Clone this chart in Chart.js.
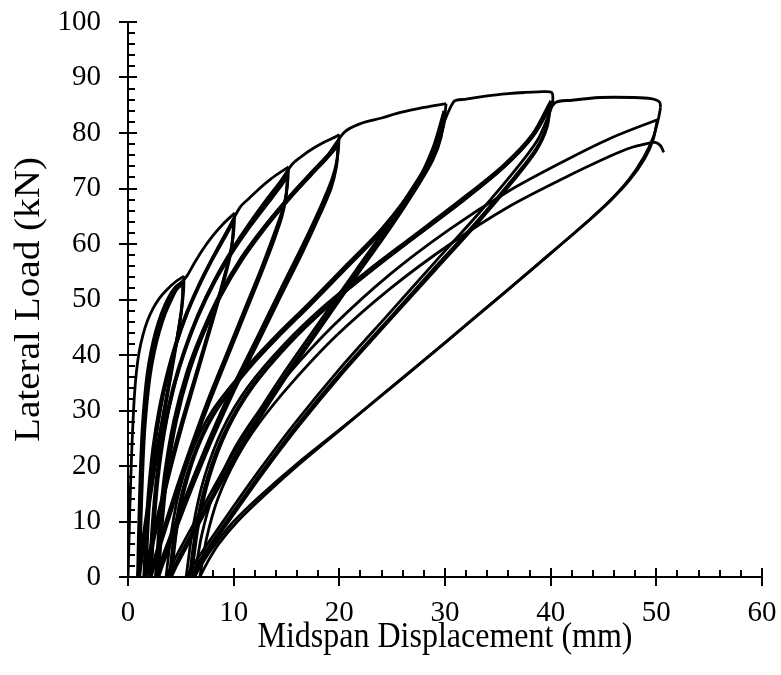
<!DOCTYPE html>
<html>
<head>
<meta charset="utf-8">
<script src="https://cdn.jsdelivr.net/npm/chart.js@4.4.1/dist/chart.umd.min.js"></script>
<style>
  html, body { margin: 0; padding: 0; background: #fff; }
  canvas { display: block; }
</style>
</head>
<body>
<canvas id="chart" width="781" height="675"></canvas>
<script>
// Axis ranges, tick spacing and titles
const xRange = [0, 60];
const yRange = [0, 100];
const xMajorStep = 10, xMinorStep = 2;
const yMajorStep = 10, yMinorStep = 2;
const xTitle = 'Midspan Displacement (mm)';
const yTitle = 'Lateral Load (kN)';

// Load–displacement path, [displacement mm, load kN], split by target amplitude.
// Each group: first loading, then unload / reload cycles.
const amp5mm = [
  [0,0],[0.1,7],[0.2,14],[0.32,21],[0.45,27],[0.6,32.5],[0.8,37],[1.05,40.5],[1.4,43.5],[1.85,46.2],[2.4,48.5],[3.0,50.3],[3.7,51.8],[4.5,53.2],[5.3,54.2],
  [5.26,51.5],[5.12,48.8],[4.86,45.5],[4.42,40.7],[3.89,35.2],[3.32,29.3],[2.75,23.3],[2.22,17.3],[1.78,11.9],[1.43,7.3],[1.16,3.8],[0.99,1.4],[0.9,0],
  [0.98,7],[1.08,14],[1.2,21],[1.35,27],[1.55,32],[1.8,36.5],[2.15,40.5],[2.6,44.2],[3.15,47.5],[3.8,50.3],[4.5,52.3],[5.2,53.3],
  [5.16,50.6],[5.03,48.0],[4.78,44.8],[4.36,40.0],[3.86,34.6],[3.31,28.8],[2.76,22.9],[2.26,17.1],[1.84,11.7],[1.5,7.2],[1.25,3.7],[1.08,1.3],[1.0,0],
  [1.08,7],[1.19,14],[1.32,21],[1.48,27],[1.7,32],[1.97,36.5],[2.33,40.5],[2.8,44.2],[3.35,47.4],[4.0,50.1],[4.65,51.9],[5.2,52.8],
  [5.16,50.2],[5.04,47.5],[4.79,44.4],[4.38,39.6],[3.89,34.3],[3.36,28.5],[2.82,22.7],[2.33,16.9],[1.92,11.6],[1.59,7.1],[1.35,3.7],[1.18,1.3],[1.1,0]
];
const amp10mm = [
  [1.1,0],[1.19,7],[1.3,14],[1.44,21],[1.61,27],[1.84,32],[2.12,36.5],[2.5,40.5],[2.98,44.2],[3.55,47.5],[4.2,50.3],[4.85,52.6],[5.6,54.3],[6.2,56.3],[7,58.8],[8,61.4],[9,63.6],[10.1,65.6],
  [10.01,62.3],[9.76,59.0],[9.24,55.1],[8.38,49.2],[7.35,42.6],[6.23,35.4],[5.11,28.2],[4.08,21.0],[3.22,14.4],[2.53,8.9],[2.02,4.6],[1.67,1.6],[1.5,0],
  [1.67,7.8],[1.93,15.5],[2.35,23.3],[2.95,30.4],[3.63,36.2],[4.48,42.0],[5.5,47.5],[6.6,52.3],[7.71,56.5],[8.73,60.1],[9.49,62.7],[10.0,64.6],
  [9.92,61.4],[9.66,58.1],[9.16,54.3],[8.32,48.5],[7.31,42.0],[6.22,34.9],[5.13,27.8],[4.12,20.7],[3.28,14.2],[2.61,8.7],[2.1,4.5],[1.77,1.6],[1.6,0],
  [1.77,7.7],[2.02,15.4],[2.44,23.1],[3.03,30.2],[3.7,36.0],[4.54,41.7],[5.55,47.2],[6.64,52.0],[7.73,56.2],[8.74,59.7],[9.5,62.3],[10.0,64.2],
  [9.92,61.0],[9.67,57.8],[9.17,53.9],[8.34,48.2],[7.34,41.7],[6.27,34.7],[5.19,27.6],[4.19,20.5],[3.36,14.1],[2.7,8.7],[2.2,4.5],[1.87,1.6],[1.7,0]
];
const amp15mm = [
  [1.7,0],[1.87,7.8],[2.12,15.6],[2.54,23.4],[3.13,30.6],[3.8,36.4],[4.64,42.3],[5.65,47.8],[6.74,52.7],[7.83,56.9],[8.84,60.5],[9.6,63.1],[10.6,66.6],[11.5,68.3],[12.5,70.1],[13.5,71.7],[14.4,72.9],[15.2,73.9],
  [15.07,70.2],[14.67,66.5],[13.88,62.1],[12.56,55.4],[10.98,48.0],[9.26,39.9],[7.54,31.8],[5.96,23.6],[4.64,16.3],[3.58,10.0],[2.79,5.2],[2.26,1.8],[2.0,0],
  [2.26,8.7],[2.66,17.4],[3.31,26.1],[4.23,34.1],[5.28,40.7],[6.59,47.2],[8.16,53.4],[9.86,58.8],[11.56,63.5],[13.14,67.5],[14.31,70.4],[15.1,72.6],
  [14.97,69.0],[14.58,65.3],[13.8,61.0],[12.5,54.5],[10.94,47.2],[9.25,39.2],[7.56,31.2],[6.0,23.2],[4.7,16.0],[3.66,9.8],[2.88,5.1],[2.36,1.8],[2.1,0],
  [2.36,8.7],[2.75,17.3],[3.4,26.0],[4.31,33.9],[5.35,40.4],[6.65,46.9],[8.21,53.1],[9.9,58.5],[11.59,63.2],[13.15,67.1],[14.32,70.0],[15.1,72.2],
  [14.97,68.6],[14.58,65.0],[13.81,60.6],[12.52,54.2],[10.97,46.9],[9.3,39.0],[7.62,31.0],[6.07,23.1],[4.78,15.9],[3.75,9.7],[2.97,5.1],[2.46,1.8],[2.2,0]
];
const amp20mm = [
  [2.2,0],[2.46,8.8],[2.85,17.6],[3.5,26.5],[4.41,34.5],[5.45,41.2],[6.75,47.8],[8.31,54.0],[10.0,59.5],[11.69,64.3],[13.25,68.4],[14.42,71.3],[15.6,74.5],[16.5,75.9],[17.5,77.2],[18.5,78.3],[19.3,79.0],[20.0,79.7],
  [19.83,75.7],[19.3,71.7],[18.26,66.9],[16.52,59.8],[14.43,51.8],[12.17,43.0],[9.91,34.3],[7.82,25.5],[6.08,17.5],[4.69,10.8],[3.64,5.6],[2.95,2.0],[2.6,0],
  [2.95,9.4],[3.47,18.8],[4.33,28.2],[5.54,36.8],[6.93,43.8],[8.66,50.9],[10.73,57.6],[12.98,63.4],[15.23,68.5],[17.31,72.8],[18.86,75.9],[19.9,78.3],
  [19.73,74.4],[19.22,70.5],[18.19,65.8],[16.48,58.7],[14.43,50.9],[12.21,42.3],[9.98,33.7],[7.93,25.1],[6.22,17.2],[4.85,10.6],[3.83,5.5],[3.14,2.0],[2.8,0],
  [3.14,9.3],[3.66,18.7],[4.51,28.0],[5.71,36.6],[7.08,43.6],[8.79,50.6],[10.84,57.2],[13.06,63.0],[15.28,68.1],[17.34,72.4],[18.87,75.5],[19.9,77.8],
  [19.73,73.9],[19.22,70.0],[18.2,65.4],[16.5,58.4],[14.46,50.6],[12.25,42.0],[10.04,33.5],[8.0,24.9],[6.3,17.1],[4.94,10.5],[3.92,5.4],[3.24,1.9],[2.9,0]
];
const amp30mm = [
  [2.9,0],[3.24,9.4],[3.76,18.9],[4.61,28.3],[5.81,36.9],[7.18,44.0],[8.89,51.1],[10.94,57.8],[13.16,63.7],[15.38,68.8],[17.44,73.1],[18.97,76.2],[20.5,80.2],[22,81.7],[24,82.7],[25.8,83.7],[28,84.6],[30.1,85.3],
  [29.84,81.0],[29.04,76.8],[27.45,71.7],[24.8,64.0],[21.62,55.4],[18.18,46.1],[14.73,36.7],[11.55,27.3],[8.9,18.8],[6.78,11.5],[5.19,6.0],[4.13,2.1],[3.6,0],
  [4.13,8.4],[4.92,16.0],[6.23,23.5],[8.07,30.2],[11.23,37.8],[14.12,43.7],[17.01,49.1],[20.7,56.3],[24.11,63.0],[27.27,71.0],[28.85,77.3],[29.9,84.0],
  [29.64,79.8],[28.86,75.6],[27.3,70.6],[24.7,63.0],[21.58,54.6],[18.2,45.4],[14.82,36.1],[11.7,26.9],[9.1,18.5],[7.02,11.3],[5.46,5.9],[4.42,2.1],[3.9,0],
  [4.42,8.4],[5.2,15.9],[6.5,23.4],[8.32,30.1],[11.44,37.6],[14.3,43.4],[17.16,48.8],[20.8,55.9],[24.18,62.6],[27.3,70.6],[28.86,76.8],[29.9,83.5],
  [29.64,79.3],[28.87,75.2],[27.32,70.1],[24.74,62.6],[21.64,54.3],[18.29,45.1],[14.94,35.9],[11.84,26.7],[9.26,18.4],[7.2,11.3],[5.65,5.8],[4.62,2.1],[4.1,0]
];
const amp40mm = [
  [4.1,0],[4.62,8.5],[5.4,16.1],[6.7,23.7],[8.52,30.4],[11.64,38.0],[14.5,43.9],[17.36,49.4],[21.0,56.6],[24.38,63.4],[27.5,71.4],[29.06,77.7],[30.8,85.6],[32,86.1],[34,86.7],[36,87.1],[37.5,87.3],[38.8,87.4],[40.1,87.3],[40.2,85.3],
  [39.75,82.9],[38.72,78.6],[36.64,73.3],[33.18,65.5],[29.03,56.7],[24.53,47.1],[20.03,37.5],[15.88,27.9],[12.42,19.2],[9.65,11.8],[7.58,6.1],[6.19,2.2],[5.5,0],
  [6.19,9.4],[7.23,18.0],[8.95,26.6],[11.37,34.3],[14.82,42.0],[18.61,48.9],[22.75,55.3],[26.89,61.3],[31.38,67.8],[35.52,74.2],[38.28,79.8],[40.0,85.8],
  [39.66,81.5],[38.63,77.2],[36.58,72.1],[33.16,64.4],[29.06,55.8],[24.61,46.3],[20.16,36.9],[16.06,27.5],[12.64,18.9],[9.9,11.6],[7.85,6.0],[6.48,2.1],[5.8,0],
  [6.48,9.4],[7.51,17.9],[9.22,26.4],[11.61,34.1],[15.03,41.8],[18.8,48.6],[22.9,55.0],[27.0,61.0],[31.45,67.4],[35.55,73.8],[38.29,79.3],[40.0,85.3],
  [39.66,81.0],[38.64,76.8],[36.6,71.7],[33.2,64.0],[29.12,55.4],[24.7,46.1],[20.28,36.7],[16.2,27.3],[12.8,18.8],[10.08,11.5],[8.04,6.0],[6.68,2.1],[6.0,0]
];
const amp50mm = [
  [6.0,0],[6.68,9.4],[7.71,18.0],[9.41,26.5],[11.8,34.2],[15.21,41.9],[18.96,48.8],[23.05,55.2],[27.14,61.2],[31.58,67.6],[35.67,74.0],[38.4,79.6],[40.4,85.4],[42,85.9],[44.7,86.4],[47.8,86.4],[49.5,86.2],[50.3,85.6],[50.4,84.6],[50.2,82.6],
  [49.7,79.2],[48.8,75.6],[47.4,71.6],[45.5,67.6],[43.5,64.1],[40,58.3],[36,51.8],[32,45.4],[28,39],[24,32.7],[20,26.5],[16,20.4],[12.5,14.6],[10,10],[8.2,5.8],[7,2.4],[6.3,0],
  [6.96,7.4],[8.05,14.8],[9.8,22.2],[11.99,28.8],[15.06,36.3],[19.44,45.3],[24.7,54.4],[30.39,62.6],[36.08,69.6],[41.34,75.0],[45.72,79.1],[50.1,82.4],
  [49.7,78.8],[48.9,75.4],[47.5,71.6],[45.6,67.7],[43.6,64.2],[40.1,58.5],[36.1,52],[32.1,45.6],[28.1,39.2],[24.1,32.9],[20.2,26.7],[16.3,20.5],[12.9,14.7],[10.4,10.1],[8.6,6],[7.5,2.6],[6.8,0],
  [7.45,7.1],[8.52,14.2],[10.25,21.3],[12.4,27.7],[15.42,34.8],[19.73,43.5],[24.9,52.1],[30.5,60.0],[36.11,66.8],[41.28,71.9],[45.59,75.8],[47.5,77.3],[49.1,78.1],[49.9,78.3],[50.4,77.7],[50.7,76.5]
];

// Join the groups into one continuous record, then cut it into branches
// wherever the displacement reverses, so every turning point stays sharp.
const record = [amp5mm, amp10mm, amp15mm, amp20mm, amp30mm, amp40mm, amp50mm].flat();
const branches = [];
let current = [record[0]];
let dir = 0;
for (let i = 1; i < record.length; i++) {
  const prev = record[i - 1], pt = record[i];
  if (pt[0] === prev[0] && pt[1] === prev[1]) continue;
  const d = Math.sign(pt[0] - prev[0]);
  if (dir !== 0 && d !== 0 && d !== dir) {
    branches.push(current);
    current = [prev];
  }
  if (d !== 0) dir = d;
  current.push(pt);
}
branches.push(current);

const datasets = branches.map(b => ({
  data: b.map(([x, y]) => ({ x, y })),
  showLine: true,
  borderColor: '#000',
  borderWidth: 2.8,
  pointRadius: 0,
  pointHoverRadius: 0,
  tension: 0.3,
  fill: false
}));

const serif = "'Liberation Serif', 'Times New Roman', serif";

// Tick marks: majors cross the axis line, minors point into the plot.
const axisTicks = {
  id: 'axisTicks',
  afterDraw(chart) {
    const { ctx, scales: { x, y }, chartArea: a } = chart;
    ctx.save();
    ctx.strokeStyle = '#000';
    ctx.lineWidth = 2;
    ctx.beginPath();
    const nx = Math.round((xRange[1] - xRange[0]) / xMinorStep);
    for (let i = 0; i <= nx; i++) {
      const v = xRange[0] + i * xMinorStep;
      const px = Math.round(x.getPixelForValue(v));
      const major = (i * xMinorStep) % xMajorStep === 0;
      ctx.moveTo(px, a.bottom + (major ? 9 : 0));
      ctx.lineTo(px, a.bottom - (major ? 9 : 7));
    }
    const ny = Math.round((yRange[1] - yRange[0]) / yMinorStep);
    for (let i = 0; i <= ny; i++) {
      const v = yRange[0] + i * yMinorStep;
      const py = Math.round(y.getPixelForValue(v));
      const major = (i * yMinorStep) % yMajorStep === 0;
      ctx.moveTo(a.left - (major ? 9 : 0), py);
      ctx.lineTo(a.left + (major ? 9 : 7), py);
    }
    ctx.stroke();
    ctx.restore();
  }
};

// Axis titles, set in a slightly tall serif face.
const axisTitles = {
  id: 'axisTitles',
  afterDraw(chart) {
    const { ctx, chartArea: a } = chart;
    ctx.save();
    ctx.fillStyle = '#000';
    ctx.textAlign = 'center';
    ctx.textBaseline = 'middle';
    ctx.save();
    ctx.font = `32px ${serif}`;
    ctx.translate((a.left + a.right) / 2, 638);
    ctx.scale(1, 1.12);
    ctx.fillText(xTitle, 0, 0);
    ctx.restore();
    ctx.save();
    ctx.font = `35px ${serif}`;
    ctx.translate(30, (a.top + a.bottom) / 2);
    ctx.rotate(-Math.PI / 2);
    ctx.scale(1.12, 1);
    ctx.fillText(yTitle, 0, 0);
    ctx.restore();
    ctx.restore();
  }
};

new Chart(document.getElementById('chart'), {
  type: 'scatter',
  data: { datasets },
  plugins: [axisTicks, axisTitles],
  options: {
    responsive: false,
    animation: false,
    devicePixelRatio: 1,
    layout: { padding: { left: 0, top: 22, right: 19, bottom: 0 } },
    plugins: { legend: { display: false }, tooltip: { enabled: false } },
    scales: {
      x: {
        type: 'linear',
        min: xRange[0], max: xRange[1],
        afterFit(scale) { scale.height = 98; scale.paddingLeft = 0; scale.paddingRight = 0; },
        grid: { display: false, drawTicks: false },
        border: { display: true, color: '#000', width: 2 },
        ticks: { stepSize: xMajorStep, color: '#000', padding: 19, font: { family: serif, size: 29 } },
        title: { display: false }
      },
      y: {
        type: 'linear',
        min: yRange[0], max: yRange[1],
        afterFit(scale) { scale.width = 128; scale.paddingTop = 0; scale.paddingBottom = 0; },
        grid: { display: false, drawTicks: false },
        border: { display: true, color: '#000', width: 2 },
        ticks: { stepSize: yMajorStep, color: '#000', padding: 27, font: { family: serif, size: 29 } },
        title: { display: false }
      }
    }
  }
});
</script>
</body>
</html>
